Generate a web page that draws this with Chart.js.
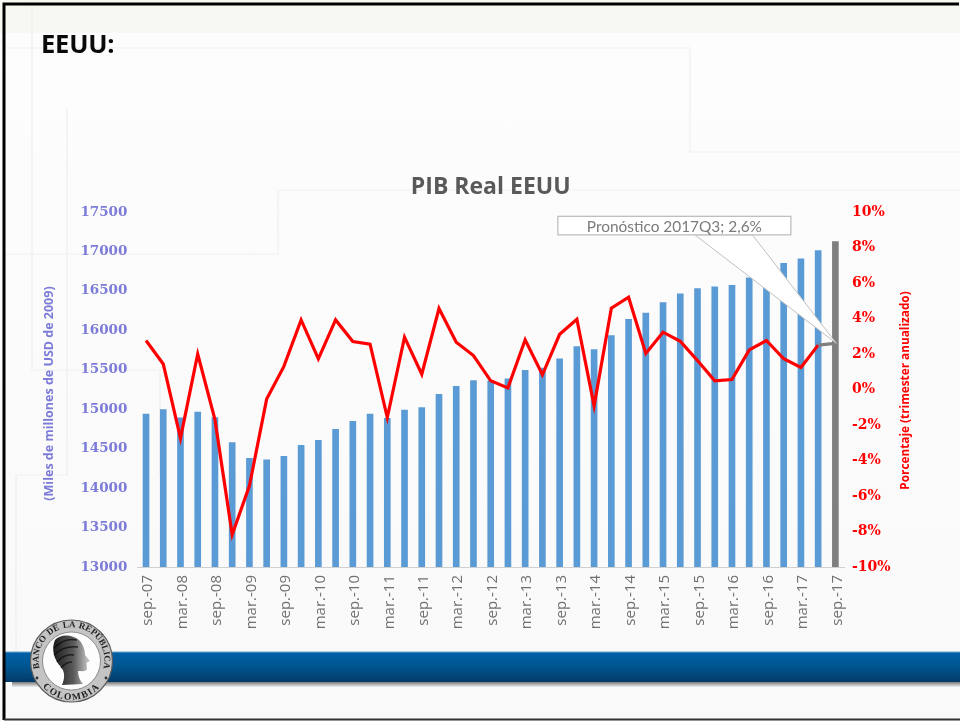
<!DOCTYPE html>
<html><head><meta charset="utf-8">
<style>
html,body{margin:0;padding:0;width:960px;height:721px;overflow:hidden;background:#fff}
#bg,#fg{position:absolute;left:0;top:0}
#wrap{position:absolute;left:0;top:0;width:960px;height:721px}
#head{position:absolute;left:41px;top:26px;font:700 25.5px "Open Sans",sans-serif;color:#0a0a0a;letter-spacing:-.2px;line-height:34px}
</style></head><body>
<svg id="bg" width="960" height="721" xmlns="http://www.w3.org/2000/svg">
<defs><linearGradient id="pg" x1="0" y1="0" x2="0" y2="1"><stop offset="0" stop-color="#fdfdfd"/><stop offset="1" stop-color="#f9f9f9"/></linearGradient></defs>
<rect width="960" height="721" fill="url(#pg)"/>
<rect x="0" y="0" width="960" height="33" fill="#f8f8f3"/>
<g fill="none" stroke="#efefef" stroke-width="1.2">
<path d="M32 5V370H160V475"/><path d="M5 48H690V152H960"/><path d="M278 190H960"/><path d="M5 254H278V190"/>
<path d="M67 108V475H16V652"/>
</g>
</svg>
<div id="wrap"><canvas id="c" width="960" height="721"></canvas></div>
<div id="head">EEUU:</div>
<svg id="fg" width="960" height="721" xmlns="http://www.w3.org/2000/svg" style="pointer-events:none">
<defs>
<linearGradient id="band" x1="0" y1="0" x2="0" y2="1"><stop offset="0" stop-color="#0060a8"/><stop offset=".5" stop-color="#00558f"/><stop offset="1" stop-color="#033a68"/></linearGradient>
<linearGradient id="sh" x1="0" y1="0" x2="0" y2="1"><stop offset="0" stop-color="#7a7a7a"/><stop offset="1" stop-color="#f0f0f0"/></linearGradient>
<linearGradient id="hd" x1="0" y1="0" x2="1" y2="0"><stop offset="0" stop-color="#1c1c1c"/><stop offset=".55" stop-color="#5a5a5a"/><stop offset="1" stop-color="#d0d0d0"/></linearGradient>
<path id="arcT" d="M42 675A33 33 0 1 1 101 675"/>
<path id="arcB" d="M34 668A38 38 0 0 0 109 668"/>
</defs>
<rect x="12" y="682" width="948" height="5" fill="url(#sh)"/>
<rect x="5" y="652" width="955" height="30" fill="url(#band)"/>
<rect x="5" y="651.5" width="955" height="1" fill="#6fa8cc"/>
<circle cx="71.5" cy="661" r="41" fill="#c4c4c4" stroke="#5c5c5c" stroke-width="1.2"/>
<circle cx="71.5" cy="661" r="29" fill="#fdfdfd" stroke="#777" stroke-width=".8"/>
<text font-family="'Liberation Serif',serif" font-weight="700" font-size="9" fill="#222" word-spacing="1"><textPath href="#arcT" startOffset="50%" text-anchor="middle">BANCO DE LA REPÚBLICA</textPath></text>
<text font-family="'Liberation Serif',serif" font-weight="700" font-size="9.5" fill="#222" letter-spacing="1.4"><textPath href="#arcB" startOffset="50%" text-anchor="middle">COLOMBIA</textPath></text>
<circle cx="37" cy="678" r="1.4" fill="#333"/><circle cx="106" cy="678" r="1.4" fill="#333"/>
<path d="M55 640C60 634 72 634 79 640C83 644 85 650 85 655L90 661L86.5 663L87 669C86 672 81 671 78 671C78 676 80 681 83 684L62 685C65 678 65 672 61 667C54 660 51 649 55 640Z" fill="url(#hd)"/>
<g fill="none" stroke="#0c0c0c" stroke-width="1.4" opacity=".75"><path d="M54 648C60 642 68 638 77 640"/><path d="M54 655C60 649 68 646 78 647"/><path d="M57 662C62 656 68 654 74 655"/><path d="M61 668C64 664 68 662 72 662"/></g>
</svg>
<svg width="960" height="721" style="position:absolute;left:0;top:0;pointer-events:none" xmlns="http://www.w3.org/2000/svg"><path d="M4 720V4H959" fill="none" stroke="#000" stroke-width="3"/><path d="M4 719.5H960" stroke="#333" stroke-width="2"/></svg>
<script src="https://cdn.jsdelivr.net/npm/chart.js@4/dist/chart.umd.min.js"></script>
<script>
const categories=["sep.-07","dic.-07","mar.-08","jun.-08","sep.-08","dic.-08","mar.-09","jun.-09","sep.-09","dic.-09","mar.-10","jun.-10","sep.-10","dic.-10","mar.-11","jun.-11","sep.-11","dic.-11","mar.-12","jun.-12","sep.-12","dic.-12","mar.-13","jun.-13","sep.-13","dic.-13","mar.-14","jun.-14","sep.-14","dic.-14","mar.-15","jun.-15","sep.-15","dic.-15","mar.-16","jun.-16","sep.-16","dic.-16","mar.-17","jun.-17","sep.-17"];
const pibReal=[14940,14995,14890,14965,14893,14577,14378,14357,14403,14543,14606,14745,14847,14940,14885,14990,15020,15190,15290,15363,15360,15385,15494,15520,15640,15794,15756,15933,16140,16220,16352,16462,16530,16550,16571,16665,16750,16850,16905,17010,17125];
const crecimiento=[2.76,1.44,-2.74,2.0,-1.7,-8.18,-5.42,-0.54,1.3,3.92,1.73,3.92,2.7,2.55,-1.58,2.95,0.86,4.56,2.66,1.91,0.49,0.09,2.8,0.83,3.11,3.96,-0.92,4.58,5.2,2.03,3.23,2.72,1.63,0.49,0.56,2.23,2.76,1.73,1.24,2.5,2.6];
const forecastLabel="Pronóstico 2017Q3; 2,6%";
const chartTitle="PIB Real EEUU";
const leftTitle="(Miles de millones de USD de 2009)";
const rightTitle="Porcentaje (trimester anualizado)";
const BLUE="#5b9bd5",GREY="#7f7f7f",RED="#ff0000",LILAC="#7c7cd8";

function vText(ctx,text,x,y,font,color){
  ctx.save();ctx.translate(x,y);ctx.rotate(-Math.PI/2);
  ctx.font=font;ctx.fillStyle=color;ctx.textAlign="center";ctx.textBaseline="middle";
  ctx.fillText(text,0,0);ctx.restore();
}
const axisTitles={id:"axisTitles",afterDraw(ch){
  const a=ch.chartArea,mid=(a.top+a.bottom)/2;
  vText(ch.ctx,leftTitle,a.left-88,mid+4,'700 12.5px "Open Sans",sans-serif',LILAC);
  vText(ch.ctx,rightTitle,a.right+62,mid+1,'700 11.8px "Open Sans",sans-serif',RED);
}};
const callout={id:"callout",afterDatasetsDraw(ch){
  const {ctx,scales}=ch;
  const n=categories.length-1;
  const tx=scales.x.getPixelForValue(n), ty=scales.y1.getPixelForValue(crecimiento[n]);
  const bx=tx-277.5,by=ty-127,bw=233,bh=18.5;
  ctx.save();
  ctx.beginPath();
  ctx.moveTo(bx+137,by+bh);ctx.lineTo(tx+1,ty);ctx.lineTo(bx+194.5,by+bh);ctx.closePath();
  ctx.fillStyle="#fff";ctx.fill();
  ctx.strokeStyle="#bfbfbf";ctx.lineWidth=1;ctx.stroke();
  ctx.fillStyle="#fff";ctx.strokeStyle="#bfbfbf";ctx.lineWidth=1.3;
  ctx.fillRect(bx,by,bw,bh);ctx.strokeRect(bx,by,bw,bh);
  ctx.fillStyle="#7b7b7b";ctx.font='15.4px "Lato",sans-serif';ctx.textAlign="center";ctx.textBaseline="middle";
  ctx.fillText(forecastLabel,bx+116.5,by+bh/2+1);
  ctx.restore();
}};

new Chart(document.getElementById("c"),{
  data:{labels:categories,datasets:[
    {type:"line",label:"Crecimiento",data:crecimiento,yAxisID:"y1",order:1,borderColor:RED,borderWidth:3.2,pointRadius:0,tension:0,
     segment:{borderColor:c=>c.p1DataIndex===categories.length-1?GREY:RED}},
    {type:"bar",label:"PIB",data:pibReal,yAxisID:"y",order:2,barThickness:6,
     backgroundColor:categories.map((_,i)=>i===categories.length-1?GREY:BLUE)}
  ]},
  plugins:[callout,axisTitles],
  options:{
    responsive:false,animation:false,
    layout:{padding:{top:174,left:41,right:46,bottom:0}},
    plugins:{legend:{display:false},tooltip:{enabled:false},
      title:{display:true,text:chartTitle,fullSize:false,color:"#595959",font:{family:"Open Sans",size:23,weight:"700"},padding:{top:0,bottom:10.4}}},
    scales:{
      x:{offset:true,grid:{display:false,drawTicks:false},border:{color:"#d0d0d0"},
        afterFit(s){s.height=154},
        ticks:{autoSkip:false,minRotation:90,maxRotation:90,padding:8,labelOffset:2,color:"#707070",font:{family:"Open Sans",size:15},
          callback(v,i){return i%2===0?categories[i]:""}}},
      y:{position:"left",min:13000,max:17500,grid:{display:false,drawTicks:false},border:{display:false},
        afterFit(s){s.width=96.4},
        ticks:{stepSize:500,padding:10,color:LILAC,font:{family:"DejaVu Serif",size:13.5,weight:"700"},callback:v=>String(v)}},
      y1:{position:"right",min:-10,max:10,grid:{display:false,drawTicks:false},border:{display:false},
        afterFit(s){s.width=70},
        ticks:{stepSize:2,padding:8,color:RED,font:{family:"DejaVu Serif",size:14,weight:"700"},callback:v=>v+"%"}}
    }
  }
});
</script>
</body></html>
